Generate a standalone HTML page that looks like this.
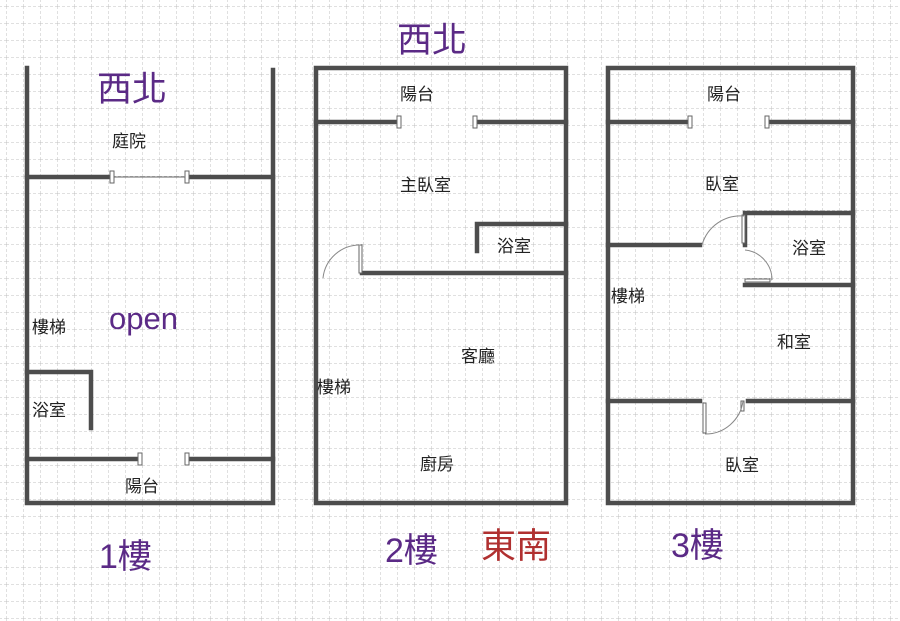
<!DOCTYPE html>
<html><head><meta charset="utf-8"><style>
body{margin:0;background:#fff;}
svg{display:block;font-family:"Liberation Sans","Noto Sans CJK TC",sans-serif;}
</style></head><body>
<svg width="900" height="621" viewBox="0 0 900 621" xmlns="http://www.w3.org/2000/svg">
<defs>
<pattern id="g" width="17" height="17" patternUnits="userSpaceOnUse" x="6" y="6">
<path d="M0 0H17M0 0V17" stroke="#c0c0c0" stroke-width="1" stroke-dasharray="3,2" fill="none"/>
</pattern>
</defs>
<rect width="900" height="621" fill="#fff"/>
<rect width="900" height="621" fill="url(#g)"/>
<g stroke="#4d4d4d" stroke-width="4.5" fill="none" stroke-linecap="square">
<path d="M27 68V503H273V70"/>
<path d="M27 177H112M187 177H273"/>
<path d="M27 459H140M187 459H273"/>
<path d="M27 372H91V428"/>
<rect x="316" y="68" width="250" height="435"/>
<path d="M316 122H398M475 122H566"/>
<path d="M362 273H566"/>
<path d="M477 251V224H566"/>
<rect x="608" y="68" width="245" height="435"/>
<path d="M608 122H690M767 122H853"/>
<path d="M745 245V213H853"/>
<path d="M608 245H700"/>
<path d="M745 285H853"/>
<path d="M608 401H700M748 401H853"/>
</g>
<g stroke="#666" stroke-width="1" fill="#fff">
<line x1="112" y1="177" x2="187" y2="177"/>
<rect x="110" y="171" width="4" height="12"/><rect x="185" y="171" width="4" height="12"/>
<rect x="138" y="453" width="4" height="12"/><rect x="185" y="453" width="4" height="12"/>
<rect x="397" y="116" width="4" height="12"/><rect x="473" y="116" width="4" height="12"/>
<rect x="688" y="116" width="4" height="12"/><rect x="765" y="116" width="4" height="12"/>
<rect x="359" y="245" width="3" height="28"/>
<rect x="742" y="215" width="3" height="28"/>
<rect x="745" y="279" width="25" height="3"/>
<rect x="703" y="403" width="3" height="30"/>
<rect x="741" y="401" width="3" height="10"/>
</g>
<g stroke="#888" stroke-width="1" fill="none">
<path d="M360 245A37 37 0 0 0 323 278"/>
<path d="M744 216A40 40 0 0 0 702 245"/>
<path d="M745 250A30 30 0 0 1 772 280"/>
<path d="M705 434A38 38 0 0 0 743 401"/>
</g>
<g fill="#222" font-size="17">
<text x="112" y="147">庭院</text>
<text x="32" y="333">樓梯</text>
<text x="32" y="416">浴室</text>
<text x="125" y="492">陽台</text>
<text x="400" y="100">陽台</text>
<text x="400" y="191">主臥室</text>
<text x="497" y="252">浴室</text>
<text x="461" y="362">客廳</text>
<text x="317" y="393">樓梯</text>
<text x="420" y="470">廚房</text>
<text x="707" y="100">陽台</text>
<text x="705" y="190">臥室</text>
<text x="792" y="254">浴室</text>
<text x="611" y="302">樓梯</text>
<text x="777" y="348">和室</text>
<text x="725" y="471">臥室</text>
</g>
<g fill="#5b2a86">
<text x="97" y="101" font-size="35">西北</text>
<text x="397" y="52" font-size="35">西北</text>
<text x="109" y="329" font-size="31">open</text>
<text x="99" y="568" font-size="34">1樓</text>
<text x="385" y="562" font-size="34">2樓</text>
<text x="671" y="557" font-size="34">3樓</text>
</g>
<text x="481" y="558" font-size="35" fill="#b03030">東南</text>
</svg>
</body></html>
